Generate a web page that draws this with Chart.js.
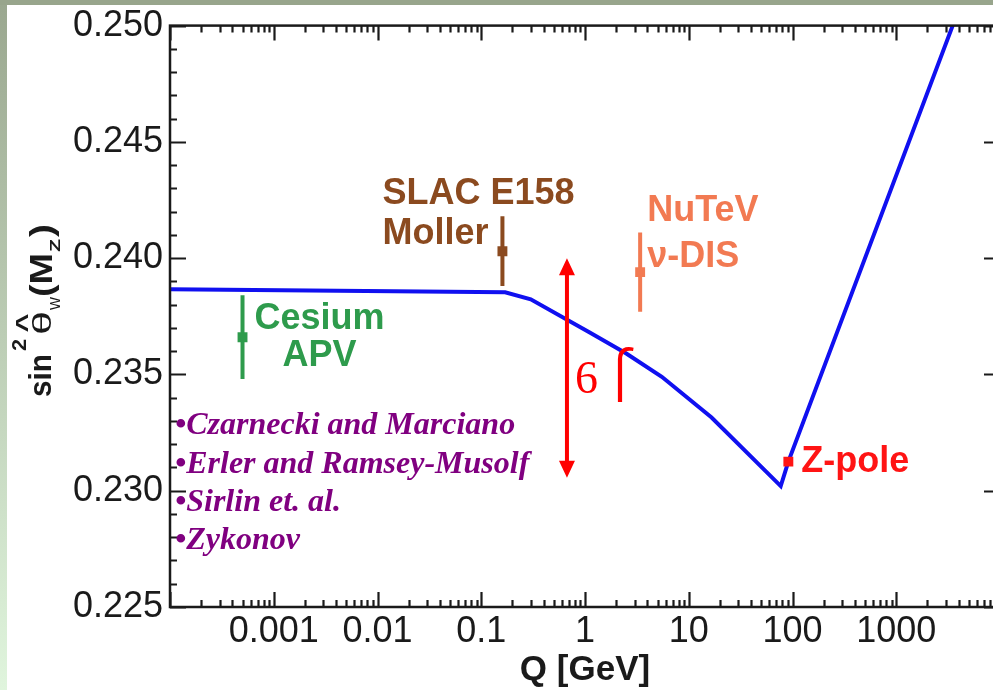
<!DOCTYPE html>
<html>
<head>
<meta charset="utf-8">
<script src="https://cdn.jsdelivr.net/npm/chart.js@4.4.0/dist/chart.umd.min.js"></script>
<style>
  html, body { margin: 0; padding: 0; width: 993px; height: 690px; overflow: hidden; }
  body { position: relative; background: linear-gradient(to bottom, #9aa78f, #e0f5dd); }
  .topband { position: absolute; left: 0; top: 0; width: 993px; height: 5px; background: #98a58c; }
  #mixing { position: absolute; left: 7px; top: 5px; background: #fff; }
</style>
</head>
<body>
<div class="topband"></div>
<canvas id="mixing" width="1000" height="685"></canvas>
<script>
// running weak mixing angle (MS-bar) vs momentum transfer
const curveQ   = [0.0001, 0.17, 0.3, 1.1, 2.5, 5.5, 16.6, 77, 91.19, 3500];
const curveS2W = [0.23866, 0.23853, 0.23823, 0.23681, 0.2359, 0.2349, 0.23315, 0.2302, 0.23125, 0.25];

// measurements
const measLabels = [['Cesium', 'APV'], ['SLAC E158', 'Moller'], ['NuTeV', 'ν-DIS'], ['Z-pole']];
const measQ   = [0.0005, 0.16, 3.4, 91.19];
const measS2W = [0.2366, 0.2403, 0.2394, 0.23125];
const measErr = [0.0018, 0.0015, 0.0017, 0.00017];

const xTickValues = [0.001, 0.01, 0.1, 1, 10, 100, 1000];
const xTickLabels = ['0.001', '0.01', '0.1', '1', '10', '100', '1000'];

const theoryRefs = ['Czarnecki and Marciano', 'Erler and Ramsey-Musolf', 'Sirlin et. al.', 'Zykonov'];

// 6 sigma arrow
const arrowQ = 0.67;
const arrowTop = 0.2400;
const arrowBottom = 0.23056;

const measColors = ['#2e9b4c', '#8b4a1f', '#f27a52', '#ff1414'];
const axisColor = '#1a1a1a';
const sans = '"Liberation Sans", Arial, sans-serif';
const serif = '"Liberation Serif", "Times New Roman", serif';

const datasets = [{
  label: 'running',
  data: curveQ.map((q, i) => ({ x: q, y: curveS2W[i] })),
  borderColor: '#1010f0',
  borderWidth: 4,
  pointRadius: 0,
  tension: 0,
  order: 2
}];
measQ.forEach((q, i) => {
  datasets.push({
    label: measLabels[i].join(' ') + ' err',
    data: [{ x: q, y: measS2W[i] - measErr[i] }, { x: q, y: measS2W[i] + measErr[i] }],
    borderColor: measColors[i],
    borderWidth: 4,
    pointRadius: 0,
    order: 1
  });
  datasets.push({
    label: measLabels[i].join(' '),
    type: 'scatter',
    data: [{ x: q, y: measS2W[i] }],
    pointStyle: 'rect',
    pointRadius: 7,
    backgroundColor: measColors[i],
    borderColor: measColors[i],
    borderWidth: 0,
    order: 0
  });
});

// inward ticks on all four sides plus the box
const frameTicks = {
  id: 'frameTicks',
  afterDatasetsDraw(chart) {
    const { ctx, chartArea: a, scales: { x, y } } = chart;
    ctx.save();
    ctx.strokeStyle = axisColor;
    ctx.lineWidth = 2.2;
    ctx.beginPath();
    for (let d = -4; d < 4; d++) {
      for (let m = 1; m < 10; m++) {
        const px = Math.round(x.getPixelForValue(m * Math.pow(10, d))) + 0.5;
        const len = m === 1 ? 15 : 7;
        ctx.moveTo(px, a.bottom); ctx.lineTo(px, a.bottom - len);
        ctx.moveTo(px, a.top); ctx.lineTo(px, a.top + len);
      }
    }
    for (let i = 0; i <= 25; i++) {
      const py = Math.round(y.getPixelForValue(0.225 + i * 0.001)) + 0.5;
      const len = i % 5 === 0 ? 16 : 7;
      ctx.moveTo(a.left, py); ctx.lineTo(a.left + len, py);
      ctx.moveTo(a.right, py); ctx.lineTo(a.right - len, py);
    }
    ctx.stroke();
    ctx.lineWidth = 2.5;
    ctx.strokeRect(a.left, a.top, a.right - a.left, a.bottom - a.top);
    ctx.restore();
  }
};

// text squeezed or stretched along its baseline to a given width
function putText(ctx, text, font, x, base, w, align) {
  ctx.save();
  ctx.font = font;
  ctx.textAlign = align || 'left';
  const m = ctx.measureText(text).width;
  ctx.translate(x, base);
  ctx.scale(w / m, 1);
  ctx.fillText(text, 0, 0);
  ctx.restore();
}

const annotations = {
  id: 'annotations',
  afterDatasetsDraw(chart) {
    const { ctx, chartArea: a, scales: { x, y } } = chart;
    ctx.save();

    // measurement names
    const layout = [
      { dx: 77, dy: [-18, 19], align: 'center' },
      { dx: -120, dy: [-57, -17], align: 'left' },
      { dx: 7, dy: [-61, -15], align: 'left' },
      { dx: 13, dy: [0], align: 'left' }
    ];
    ctx.font = 'bold 36px ' + sans;
    ctx.textBaseline = 'middle';
    measLabels.forEach((lines, i) => {
      const px = x.getPixelForValue(measQ[i]);
      const py = y.getPixelForValue(measS2W[i]);
      ctx.fillStyle = measColors[i];
      ctx.textAlign = layout[i].align;
      lines.forEach((t, k) => ctx.fillText(t, px + layout[i].dx, py + layout[i].dy[k]));
    });

    // red double arrow
    const ax = x.getPixelForValue(arrowQ);
    const at = y.getPixelForValue(arrowTop);
    const ab = y.getPixelForValue(arrowBottom);
    ctx.strokeStyle = '#ff0000';
    ctx.fillStyle = '#ff0000';
    ctx.lineWidth = 4;
    ctx.beginPath();
    ctx.moveTo(ax, at + 12); ctx.lineTo(ax, ab - 12);
    ctx.stroke();
    ctx.beginPath();
    ctx.moveTo(ax, at); ctx.lineTo(ax - 8, at + 17); ctx.lineTo(ax + 8, at + 17); ctx.closePath();
    ctx.moveTo(ax, ab); ctx.lineTo(ax - 8, ab - 17); ctx.lineTo(ax + 8, ab - 17); ctx.closePath();
    ctx.fill();

    const mid = (at + ab) / 2;
    ctx.textAlign = 'left';
    ctx.textBaseline = 'alphabetic';
    ctx.font = '46px ' + serif;
    ctx.fillText('6', ax + 8, mid + 25);
    ctx.font = '300 72px Roboto, ' + sans;
    ctx.fillText('ſ', ax + 45, mid + 34);

    // theory references
    ctx.fillStyle = '#800080';
    ctx.font = 'italic bold 32px ' + serif;
    ctx.textBaseline = 'middle';
    theoryRefs.forEach((t, i) => ctx.fillText('•' + t, a.left + 5, a.bottom - 181 + i * 38.3));

    // y axis title, rotated: sin²θ̂_W(M_Z)
    ctx.translate(44, 392);
    ctx.rotate(-Math.PI / 2);
    ctx.fillStyle = axisColor;
    ctx.textBaseline = 'alphabetic';
    putText(ctx, 'sin', 'bold 31px ' + sans, 0, 0, 43);
    putText(ctx, '2', 'bold 20px ' + sans, 46, -25, 12);
    putText(ctx, 'θ', '26px ' + sans, 62, 0, 24);
    putText(ctx, '^', 'bold 27px ' + sans, 74, -16, 19, 'center');
    putText(ctx, 'W', '15px ' + sans, 87, 9, 13);
    putText(ctx, '(M', 'bold 31px ' + sans, 100, 1, 44);
    putText(ctx, 'Z', 'bold 14px ' + sans, 145, 9, 13);
    putText(ctx, ')', 'bold 31px ' + sans, 160, 1, 13);

    ctx.restore();
  }
};

new Chart(document.getElementById('mixing'), {
  type: 'line',
  data: { datasets },
  options: {
    responsive: false,
    animation: false,
    devicePixelRatio: 1,
    layout: { padding: { top: 16, right: 6, left: 0, bottom: 0 } },
    plugins: { legend: { display: false }, tooltip: { enabled: false } },
    scales: {
      x: {
        type: 'logarithmic',
        min: 0.0001,
        max: 10000,
        grid: { display: false },
        border: { display: false },
        afterBuildTicks: (s) => { s.ticks = xTickValues.map((v) => ({ value: v })); },
        afterFit: (s) => { s.height = 83; },
        ticks: {
          autoSkip: false,
          maxRotation: 0,
          padding: -5,
          color: axisColor,
          font: { family: sans, size: 36 },
          callback: (v) => {
            const i = xTickValues.indexOf(v);
            return i >= 0 ? xTickLabels[i] : '';
          }
        },
        title: {
          display: true,
          text: 'Q [GeV]',
          color: axisColor,
          padding: { top: 0, bottom: 2 },
          font: { family: sans, size: 35, weight: 'bold', lineHeight: 1 }
        }
      },
      y: {
        min: 0.225,
        max: 0.25,
        grid: { display: false },
        border: { display: false },
        afterFit: (s) => { s.width = 163; },
        ticks: {
          stepSize: 0.005,
          padding: -1,
          color: axisColor,
          font: { family: sans, size: 36 },
          callback: (v) => v.toFixed(3)
        }
      }
    }
  },
  plugins: [frameTicks, annotations]
});
</script>
</body>
</html>
